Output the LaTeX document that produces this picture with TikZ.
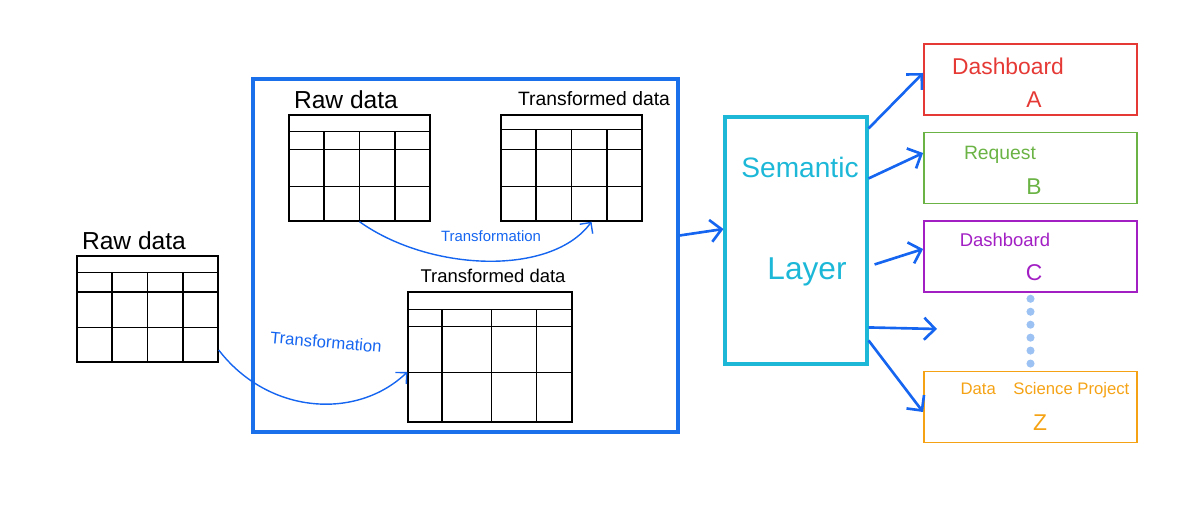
\documentclass[tikz,border=0pt]{standalone}
\usepackage{fontspec}
\setmainfont{Liberation Sans}
\usetikzlibrary{arrows.meta,positioning,calc}
\definecolor{flowblue}{HTML}{1565F0}
\definecolor{pipeblue}{HTML}{1A6FEA}
\definecolor{semcyan}{HTML}{1DB8D8}
\definecolor{outred}{HTML}{E53935}
\definecolor{outgreen}{HTML}{6AB344}
\definecolor{outpurple}{HTML}{A21FC4}
\definecolor{outorange}{HTML}{F5A315}
\definecolor{dotblue}{HTML}{9CC2F4}
% rows and columns of a table node: #2 header line, #3 other row lines, #4 column lines
\newcommand\tablelines[4]{%
 \draw[tline] let \p1=(#1.north west), \p2=(#1.south east) in
  \foreach \r in {#2,#3} {(\x1,{(\y1)+\r*((\y2)-(\y1))}) -- (\x2,{(\y1)+\r*((\y2)-(\y1))})}
  \foreach \c in {#4} {({(\x1)+\c*((\x2)-(\x1))},{(\y1)+#2*((\y2)-(\y1))}) -- ({(\x1)+\c*((\x2)-(\x1))},\y2)};}

\begin{document}
\begin{tikzpicture}[x=0.02cm,y=0.02cm,>={Straight Barb[length=2.2mm,width=4.4mm]},
 tbl/.style={draw,line width=.8pt,minimum width=2.82cm,minimum height=2.12cm,inner sep=0},
 tline/.style={line width=.8pt},
 lbl/.style={font=\fontsize{14}{16}\selectfont,inner sep=1pt},
 tlbl/.style={font=\fontsize{11}{13}\selectfont,inner sep=1pt},
 xform/.style={-{Straight Barb[length=1.6mm,width=3.2mm]},flowblue,line width=.8pt},
 xlbl/.style={text=flowblue,inner sep=1pt},
 outbox/.style={draw,line width=1.1pt,minimum width=4.26cm,minimum height=1.42cm},
 feed/.style={->,flowblue,line width=1.5pt}]
\useasboundingbox (0,0) rectangle (1200,-526);

% tables
\node[draw=pipeblue,line width=1.8pt,minimum width=8.5cm,minimum height=7.06cm] (pipe) at (465.5,-255.5) {};
\node[tbl] (rawA) at (147.5,-309) {};
\node[tbl] (rawB) at (359.5,-168) {};
\node[tbl] (trB) at (571.5,-168) {};
\node[tbl,minimum width=3.28cm,minimum height=2.6cm] (trA) at (490,-357) {};
\tablelines{rawA}{0.16}{0.34,0.67}{0.25,0.5,0.75}
\tablelines{rawB}{0.16}{0.33,0.67}{0.25,0.5,0.75}
\tablelines{trB}{0.14}{0.33,0.67}{0.25,0.5,0.75}
\tablelines{trA}{0.14}{0.27,0.62}{0.21,0.51,0.78}
\node[lbl] (rawAlbl) at (134,-241) {Raw data};
\node[lbl] (rawBlbl) at (346,-100) {Raw data};
\node[tlbl] (trBlbl) at (594,-99) {Transformed data};
\node[tlbl,font=\fontsize{10.5}{12}\selectfont] (trAlbl) at (493,-276) {Transformed data};

% transformations
\draw[xform] (rawB.south) .. controls +(70,-50) and +(-40,-55) .. ($(trB.south)+(20,0)$);
\draw[xform] ($(rawA.east)+(0,-41)$) .. controls +(50,-65) and +(-50,-48) .. ($(trA.west)+(0,-15)$);
\node[xlbl,font=\fontsize{8.5}{10}\selectfont] (xfB) at (491,-236) {Transformation};
\node[xlbl,font=\fontsize{9.5}{11}\selectfont,rotate=-5] (xfA) at (326,-342) {Transformation};

% semantic layer
\node[draw=semcyan,line width=1.8pt,minimum width=2.84cm,minimum height=4.94cm] (sem) at (796,-240.5) {};
\node[text=semcyan,font=\fontsize{16}{18}\selectfont] (semtop) at (800,-167) {Semantic};
\node[text=semcyan,font=\fontsize{18}{20}\selectfont] (sembot) at (807,-272) {Layer};
\draw[feed] ($(pipe.east)+(0,20)$) -- ($(sem.west)+(0,11.5)$);

% consumers
\node[outbox,draw=outred] (dashA) at (1030.5,-79.5) {};
\node[outbox,draw=outgreen] (reqB) at (1030.5,-168) {};
\node[outbox,draw=outpurple] (dashC) at (1030.5,-256.5) {};
\node[outbox,draw=outorange] (dsZ) at (1030.5,-407) {};
\coordinate (more) at (937,-329);
\node[text=outred,font=\fontsize{13}{15}\selectfont] (dashAt) at (1008,-66) {Dashboard};
\node[text=outred,font=\fontsize{13}{15}\selectfont] (dashAl) at (1034,-100) {A};
\node[text=outgreen,font=\fontsize{11}{13}\selectfont] (reqBt) at (1000,-155) {Request};
\node[text=outgreen,font=\fontsize{13}{15}\selectfont] (reqBl) at (1034,-187) {B};
\node[text=outpurple,font=\fontsize{10.5}{12}\selectfont] (dashCt) at (1005,-240) {Dashboard};
\node[text=outpurple,font=\fontsize{13}{15}\selectfont] (dashCl) at (1034,-273) {C};
\node[text=outorange,font=\fontsize{9.5}{11}\selectfont] (dsZt) at (1045,-390) {Data\hspace{10pt}Science Project};
\node[text=outorange,font=\fontsize{13}{15}\selectfont] (dsZl) at (1040,-423) {Z};
\foreach \i in {0,...,5}
 \fill[dotblue] ($(dashC.south)!{0.075+\i*0.167}!(dsZ.north)$) circle (2.3pt);

\draw[feed] ($(sem.north east)+(0,-13)$) -- ($(dashA.west)+(0,6.5)$);
\draw[feed] ($(sem.north east)+(0,-63)$) -- ($(reqB.west)+(0,15)$);
\draw[feed] ($(sem.north east)+(6,-149)$) -- ($(dashC.west)+(0,7.5)$);
\draw[feed] ($(sem.north east)+(0,-212)$) -- (more);
\draw[feed] ($(sem.north east)+(0,-225)$) -- ($(dsZ.west)+(0,-5)$);
\end{tikzpicture}
\end{document}
